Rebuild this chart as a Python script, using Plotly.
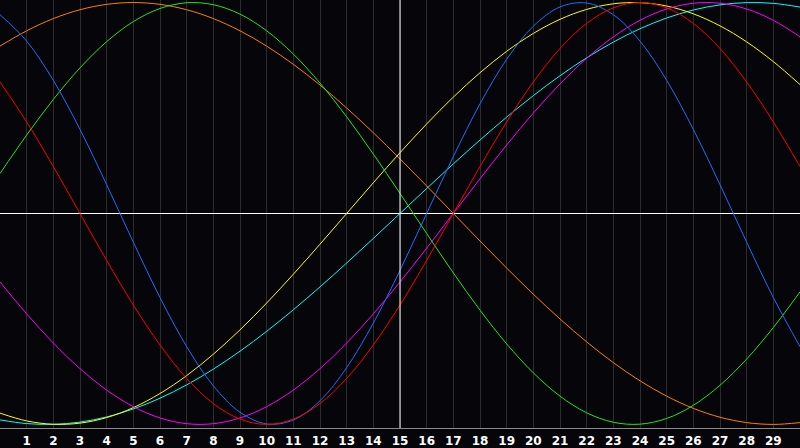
import plotly.graph_objects as go

days = list(range(0, 31))
tick_days = list(range(1, 30))
tick_labels = [str(d) for d in tick_days]
today = 15

red = [0.6235, 0.4339, 0.2225, 0.0, -0.2225, -0.4339, -0.6235, -0.7818, -0.9010, -0.9749,
       -1.0, -0.9749, -0.9010, -0.7818, -0.6235, -0.4339, -0.2225, 0.0, 0.2225, 0.4339,
       0.6235, 0.7818, 0.9010, 0.9749, 1.0, 0.9749, 0.9010, 0.7818, 0.6235, 0.4339, 0.2225]

green = [0.1893, 0.3717, 0.5406, 0.6901, 0.8146, 0.9096, 0.9718, 0.9989, 0.9898, 0.9450,
         0.8660, 0.7557, 0.6182, 0.4582, 0.2817, 0.0951, -0.0951, -0.2817, -0.4582, -0.6182,
         -0.7557, -0.8660, -0.9450, -0.9898, -0.9989, -0.9718, -0.9096, -0.8146, -0.6901, -0.5406, -0.3717]

blue = [0.9423, 0.8170, 0.6311, 0.3984, 0.1362, -0.1362, -0.3984, -0.6311, -0.8170, -0.9423,
        -0.9977, -0.9791, -0.8879, -0.7308, -0.5196, -0.2698, 0.0, 0.2698, 0.5196, 0.7308,
        0.8879, 0.9791, 0.9977, 0.9423, 0.8170, 0.6311, 0.3984, 0.1362, -0.1362, -0.3984, -0.6311]

magenta = [-0.3247, -0.4759, -0.6142, -0.7357, -0.8372, -0.9158, -0.9694, -0.9966, -0.9966, -0.9694,
           -0.9158, -0.8372, -0.7357, -0.6142, -0.4759, -0.3247, -0.1646, 0.0, 0.1646, 0.3247,
           0.4759, 0.6142, 0.7357, 0.8372, 0.9158, 0.9694, 0.9966, 0.9966, 0.9694, 0.9158, 0.8372]

yellow = [-0.9465, -0.9834, -0.9993, -0.9940, -0.9675, -0.9204, -0.8535, -0.7686, -0.6672, -0.5517,
          -0.4244, -0.2881, -0.1456, 0.0, 0.1456, 0.2881, 0.4244, 0.5517, 0.6672, 0.7686,
          0.8535, 0.9204, 0.9675, 0.9940, 0.9993, 0.9834, 0.9465, 0.8894, 0.8135, 0.7199, 0.6112]

orange = [0.7934, 0.8660, 0.9239, 0.9659, 0.9914, 1.0, 0.9914, 0.9659, 0.9239, 0.8660,
          0.7934, 0.7071, 0.6088, 0.5, 0.3827, 0.2588, 0.1305, 0.0, -0.1305, -0.2588,
          -0.3827, -0.5, -0.6088, -0.7071, -0.7934, -0.8660, -0.9239, -0.9659, -0.9914, -1.0, -0.9914]

cyan = [-0.9786, -0.9961, -0.9996, -0.9890, -0.9646, -0.9267, -0.8758, -0.8126, -0.7380, -0.6529,
        -0.5587, -0.4566, -0.3482, -0.2349, -0.1183, 0.0, 0.1183, 0.2349, 0.3482, 0.4566,
        0.5587, 0.6529, 0.7380, 0.8126, 0.8758, 0.9267, 0.9646, 0.9890, 0.9996, 0.9961, 0.9786]

series = [
    ("cyan", cyan, "#00ffff"),
    ("orange", orange, "#ff8000"),
    ("yellow", yellow, "#ffff00"),
    ("magenta", magenta, "#ff00ff"),
    ("green", green, "#22e622"),
    ("blue", blue, "#1e6eff"),
    ("red", red, "#ff0000"),
]

fig = go.Figure()
for name, vals, col in series:
    fig.add_trace(go.Scatter(x=days, y=vals, mode="lines", name=name,
                             line=dict(color=col, width=1, shape="spline", smoothing=1.0),
                             hoverinfo="skip"))

fig.add_shape(type="line", xref="x", yref="paper", x0=today, x1=today, y0=0, y1=1,
              line=dict(color="#ffffff", width=1), layer="above")

fig.update_layout(
    width=800, height=448,
    margin=dict(l=0, r=0, t=0, b=20),
    paper_bgcolor="#060509",
    plot_bgcolor="#060509",
    showlegend=False,
    xaxis=dict(range=[0, 30], tickvals=tick_days, ticktext=tick_labels,
               showgrid=True, gridcolor="#2c2c2c", gridwidth=1,
               zeroline=False, showline=True, linecolor="#8a8a8a", linewidth=1, mirror=True,
               ticks="", ticklabelstandoff=2,
               tickfont=dict(family="DejaVu Sans", size=12, color="#ffffff", weight="bold"),
               fixedrange=True),
    yaxis=dict(range=[-1.017, 1.012], showgrid=False, showticklabels=False,
               zeroline=True, zerolinecolor="#ffffff", zerolinewidth=1,
               showline=True, linecolor="#8a8a8a", linewidth=1, mirror=True, ticks="",
               fixedrange=True),
)

fig.write_html("out.html", config={"displayModeBar": False},
               post_script="document.body.style.margin='0';document.body.style.padding='0';"
                           "document.body.style.background='#060509';document.body.style.overflow='hidden';")
